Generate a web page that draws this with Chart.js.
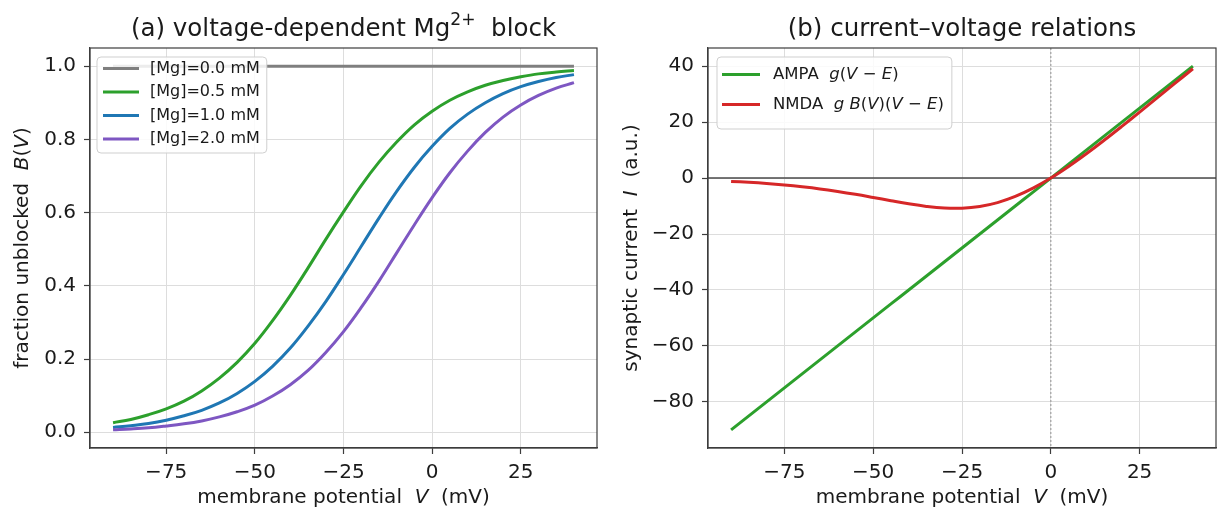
<!DOCTYPE html>
<html>
<head>
<meta charset="utf-8">
<script src="https://cdn.jsdelivr.net/npm/chart.js@4.4.1/dist/chart.umd.min.js"></script>
<style>
  html, body { margin: 0; padding: 0; background: #ffffff; }
  #wrap { position: relative; width: 1227px; height: 525px; overflow: hidden; }
  canvas { position: absolute; top: 0; }
  #c1 { left: 0; }
  #c2 { left: 613px; }
</style>
</head>
<body>
<div id="wrap">
  <canvas id="c1" width="613" height="525"></canvas>
  <canvas id="c2" width="614" height="525"></canvas>
</div>
<script>
// ---------------- data ----------------
const V = [-90,-85,-80,-75,-70,-65,-60,-55,-50,-45,-40,-35,-30,-25,-20,-15,-10,-5,0,5,10,15,20,25,30,35,40];
const B_MG00 = [1,1,1,1,1,1,1,1,1,1,1,1,1,1,1,1,1,1,1,1,1,1,1,1,1,1,1];
const B_MG05 = [0.026,0.035,0.048,0.064,0.085,0.113,0.148,0.191,0.243,0.305,0.374,0.449,0.527,0.602,0.674,0.738,0.793,0.840,0.877,0.907,0.930,0.948,0.961,0.971,0.979,0.984,0.988];
const B_MG10 = [0.013,0.018,0.024,0.033,0.045,0.060,0.080,0.106,0.139,0.180,0.230,0.290,0.357,0.431,0.508,0.585,0.658,0.724,0.781,0.830,0.869,0.900,0.925,0.944,0.958,0.969,0.977];
const B_MG20 = [0.007,0.009,0.012,0.017,0.023,0.031,0.042,0.056,0.074,0.099,0.130,0.169,0.218,0.275,0.341,0.413,0.490,0.567,0.641,0.709,0.768,0.819,0.861,0.894,0.920,0.940,0.955];
const I_AMPA = [-90,-85,-80,-75,-70,-65,-60,-55,-50,-45,-40,-35,-30,-25,-20,-15,-10,-5,0,5,10,15,20,25,30,35,40];
const I_NMDA = [-1.20,-1.53,-1.95,-2.48,-3.12,-3.87,-4.78,-5.80,-6.93,-8.10,-9.21,-10.13,-10.72,-10.78,-10.16,-8.77,-6.58,-3.62,0,4.15,8.69,13.51,18.50,23.60,28.74,33.92,39.08];

const X_TICKS = [-75,-50,-25,0,25];
const Y_TICKS_A = [0.0,0.2,0.4,0.6,0.8,1.0];
const Y_TICKS_B = [-80,-60,-40,-20,0,20,40];

const LABELS_A = ["[Mg]=0.0 mM","[Mg]=0.5 mM","[Mg]=1.0 mM","[Mg]=2.0 mM"];
// rich text parts: [text, style]  style: '' normal, 'i' italic, 'sup' superscript
const LABELS_B = [
  [["AMPA  ",""],["g","i"],["(",""],["V","i"],[" \u2212 ",""],["E","i"],[")",""]],
  [["NMDA  ",""],["g","i"],[" ",""],["B","i"],["(",""],["V","i"],[")(",""],["V","i"],[" \u2212 ",""],["E","i"],[")",""]]
];
const TITLE_A = [["(a) voltage-dependent Mg",""],["2+","sup"],["  block",""]];
const TITLE_B = [["(b) current\u2013voltage relations",""]];
const XLABEL = [["membrane potential  ",""],["V","i"],["  (mV)",""]];
const YLABEL_A = [["fraction unblocked  ",""],["B","i"],["(",""],["V","i"],[")",""]];
const YLABEL_B = [["synaptic current  ",""],["I","i"],["  (a.u.)",""]];

// ---------------- styles ----------------
const FONT = '"DejaVu Sans", "Liberation Sans", sans-serif';
const C_GRAY = '#7f7f7f', C_GREEN = '#2ca02c', C_BLUE = '#1f77b4', C_PURPLE = '#7e57c2', C_RED = '#d62728';
const TEXT = '#1a1a1a', SPINE = '#3d3d3d', GRID = '#dddddd';

function fmtTick(v, dec) {
  const s = Math.abs(v).toFixed(dec);
  return (v < 0 ? '\u2212' : '') + s;
}

function richFont(style, size) {
  const sz = style === 'sup' ? size * 0.7 : size;
  return (style === 'i' ? 'italic ' : '') + sz + 'px ' + FONT;
}
function richWidth(ctx, parts, size) {
  let w = 0;
  for (const p of parts) { ctx.font = richFont(p[1], size); w += ctx.measureText(p[0]).width; }
  return w;
}
function drawRich(ctx, parts, x, y, size, opts) {
  opts = opts || {};
  ctx.save();
  ctx.translate(x, y);
  if (opts.rotate) ctx.rotate(-Math.PI / 2);
  ctx.fillStyle = TEXT;
  ctx.textBaseline = 'middle';
  ctx.textAlign = 'left';
  const total = richWidth(ctx, parts, size);
  let cx = opts.align === 'left' ? 0 : -total / 2;
  for (const p of parts) {
    ctx.font = richFont(p[1], size);
    const dy = p[1] === 'sup' ? -size * 0.38 : 0;
    ctx.fillText(p[0], cx, dy);
    cx += ctx.measureText(p[0]).width;
  }
  ctx.restore();
}

function series(ys) { return V.map((v, i) => ({ x: v, y: ys[i] })); }

function makeDataset(label, ys, color, idx, n) {
  return {
    label: label, data: series(ys), borderColor: color, backgroundColor: color,
    borderWidth: 3, pointRadius: 0, pointHoverRadius: 0, fill: false,
    tension: 0.4, order: n - idx
  };
}

function axisCommon(ticksArr, dec, min, max, pos, fitSize) {
  return {
    type: 'linear', position: pos, min: min, max: max,
    afterBuildTicks: (s) => { s.ticks = ticksArr.map(v => ({ value: v })); },
    afterFit: (s) => { if (pos === 'left') s.width = fitSize; else s.height = fitSize; },
    ticks: {
      color: TEXT, font: { family: FONT, size: 20 }, padding: pos === 'left' ? 8 : 7,
      maxRotation: 0, autoSkip: false,
      callback: (v) => fmtTick(v, dec)
    },
    grid: { color: GRID, lineWidth: 1, drawTicks: true, tickLength: 6, tickColor: SPINE, tickWidth: 1.2 },
    border: { display: true, color: SPINE, width: 1.2 },
    title: { display: false }
  };
}

function decorPlugin(cfg) {
  return {
    id: 'decor' + cfg.name,
    beforeDatasetsDraw(chart) {
      if (!cfg.zeroLines) return;
      const ctx = chart.ctx, a = chart.chartArea;
      const xs = chart.scales.x, ys = chart.scales.y;
      ctx.save();
      const y0 = ys.getPixelForValue(0);
      ctx.strokeStyle = '#4a4a4a'; ctx.lineWidth = 1.4;
      ctx.beginPath(); ctx.moveTo(a.left, y0); ctx.lineTo(a.right, y0); ctx.stroke();
      const x0 = xs.getPixelForValue(0);
      ctx.strokeStyle = '#a0a0a0'; ctx.lineWidth = 1.2; ctx.setLineDash([2, 2]);
      ctx.beginPath(); ctx.moveTo(x0, a.top); ctx.lineTo(x0, a.bottom); ctx.stroke();
      ctx.restore();
    },
    afterDatasetsDraw(chart) {
      const ctx = chart.ctx, a = chart.chartArea;
      ctx.save();
      ctx.strokeStyle = SPINE; ctx.lineWidth = 1.2;
      ctx.strokeRect(a.left, a.top, a.right - a.left, a.bottom - a.top);
      const L = cfg.legend;
      const bx = a.left + L.dx, by = a.top + L.dy;
      let maxW = 0;
      for (const parts of L.items) maxW = Math.max(maxW, richWidth(ctx, parts, L.size));
      const bw = L.padL + L.lineLen + L.gap + maxW + L.padR;
      const bh = L.height;
      ctx.beginPath();
      ctx.roundRect(bx, by, bw, bh, 4);
      ctx.fillStyle = 'rgba(255,255,255,0.85)';
      ctx.fill();
      ctx.strokeStyle = '#cfcfcf'; ctx.lineWidth = 1;
      ctx.stroke();
      L.items.forEach((parts, i) => {
        const ry = by + L.first + i * L.step;
        ctx.strokeStyle = L.colors[i]; ctx.lineWidth = 3; ctx.setLineDash([]);
        ctx.beginPath(); ctx.moveTo(bx + L.padL, ry); ctx.lineTo(bx + L.padL + L.lineLen, ry); ctx.stroke();
        drawRich(ctx, parts, bx + L.padL + L.lineLen + L.gap, ry, L.size, { align: 'left' });
      });
      ctx.restore();
    },
    afterDraw(chart) {
      const ctx = chart.ctx, a = chart.chartArea;
      const cxm = (a.left + a.right) / 2, cym = (a.top + a.bottom) / 2;
      drawRich(ctx, cfg.title, cxm, 30, 24.5);
      drawRich(ctx, cfg.xlabel, cxm, 498, 20);
      drawRich(ctx, cfg.ylabel, cfg.ylabelX, cym, 20, { rotate: true });
    }
  };
}

function baseOptions(padRight, yAxis, xAxis) {
  return {
    responsive: false, animation: false, devicePixelRatio: 1,
    layout: { padding: { top: 48, right: padRight, left: 0, bottom: 0 } },
    plugins: { legend: { display: false }, title: { display: false }, tooltip: { enabled: false } },
    events: [],
    scales: { x: xAxis, y: yAxis }
  };
}

// ---------------- chart (a) ----------------
const dsA = [
  makeDataset(LABELS_A[0], B_MG00, C_GRAY, 0, 4),
  makeDataset(LABELS_A[1], B_MG05, C_GREEN, 1, 4),
  makeDataset(LABELS_A[2], B_MG10, C_BLUE, 2, 4),
  makeDataset(LABELS_A[3], B_MG20, C_PURPLE, 3, 4)
];
new Chart(document.getElementById('c1'), {
  type: 'line',
  data: { datasets: dsA },
  options: baseOptions(16,
    axisCommon(Y_TICKS_A, 1, -0.043, 1.0497, 'left', 90),
    axisCommon(X_TICKS, 0, -96.5, 46.5, 'bottom', 77)),
  plugins: [decorPlugin({
    name: 'A', zeroLines: false, title: TITLE_A, xlabel: XLABEL, ylabel: YLABEL_A, ylabelX: 23,
    legend: {
      items: LABELS_A.map(t => [[t, '']]), colors: [C_GRAY, C_GREEN, C_BLUE, C_PURPLE],
      size: 16, dx: 7, dy: 9, padL: 6, lineLen: 36, gap: 11, padR: 7,
      first: 11.5, step: 23.5, height: 96
    }
  })]
});

// ---------------- chart (b) ----------------
const dsB = [
  makeDataset('AMPA', I_AMPA, C_GREEN, 0, 2),
  makeDataset('NMDA', I_NMDA, C_RED, 1, 2)
];
new Chart(document.getElementById('c2'), {
  type: 'line',
  data: { datasets: dsB },
  options: baseOptions(11,
    axisCommon(Y_TICKS_B, 0, -96.5, 46.5, 'left', 95),
    axisCommon(X_TICKS, 0, -96.5, 46.5, 'bottom', 77)),
  plugins: [decorPlugin({
    name: 'B', zeroLines: true, title: TITLE_B, xlabel: XLABEL, ylabel: YLABEL_B, ylabelX: 19,
    legend: {
      items: LABELS_B, colors: [C_GREEN, C_RED],
      size: 16.5, dx: 9, dy: 9, padL: 5, lineLen: 38, gap: 13, padR: 8,
      first: 17.5, step: 30, height: 72
    }
  })]
});
</script>
</body>
</html>
